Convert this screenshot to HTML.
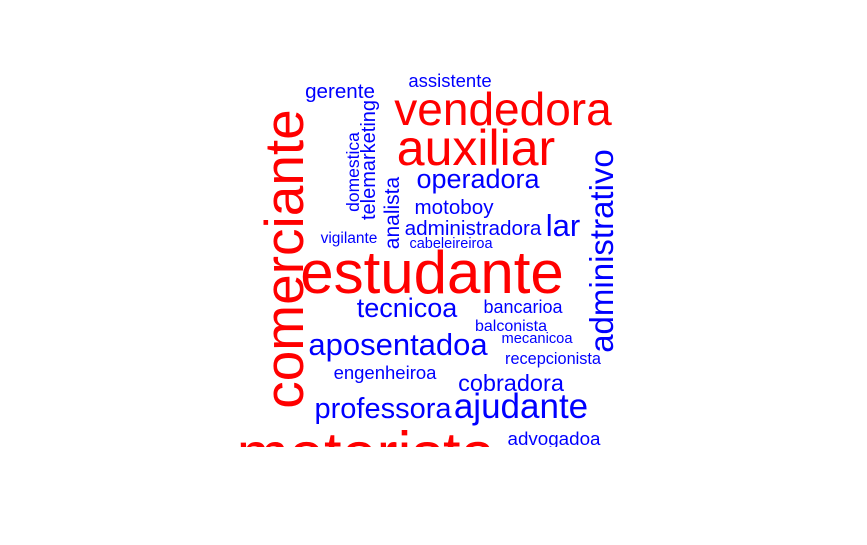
<!DOCTYPE html>
<html>
<head>
<meta charset="utf-8">
<style>
html,body{margin:0;padding:0;background:#fff;}
svg{display:block;}
text{font-family:"Liberation Sans",Arial,sans-serif;}
</style>
</head>
<body>
<svg id="cloud" width="867" height="545" viewBox="0 0 867 545">
<defs><clipPath id="clip"><rect x="0" y="0" width="867" height="447"/></clipPath></defs>
<g id="words" clip-path="url(#clip)"></g>
</svg>
<script>
// word cloud data: words and their relative sizes (font px)
const words = ["estudante","comerciante","motorista","auxiliar","vendedora","administrativo","ajudante","aposentadoa","lar","professora","operadora","tecnicoa","cobradora","gerente","analista","telemarketing","motoboy","administradora","advogadoa","engenheiroa","domestica","bancarioa","assistente","recepcionista","balconista","vigilante","mecanicoa","cabeleireiroa"];
const sizes = [60,55,63,50,46,33,35,31,31,29,27,27,23.5,20.6,21,20,20.6,20.7,18.8,18.5,17.5,18,18.5,16.3,16,15.5,14.7,14.5];
const colorGroup = [1,1,1,1,1,0,0,0,0,0,0,0,0,0,0,0,0,0,0,0,0,0,0,0,0,0,0,0];
// layout (placement computed by the cloud algorithm)
const layout = {
 estudante:[432,293,0], comerciante:[303,259,1], motorista:[366,476,0], auxiliar:[476,165,0],
 vendedora:[503,125,0], administrativo:[613,251,1], ajudante:[521,418,0], aposentadoa:[398,355,0],
 lar:[563,236,0], professora:[383,418,0], operadora:[478,188,0], tecnicoa:[407,317,0],
 cobradora:[511,391,0], gerente:[340,98,0], analista:[399,213,1], telemarketing:[375,160,1],
 motoboy:[454,214,0], administradora:[473,235,0], advogadoa:[554,445,0], engenheiroa:[385,379,0],
 domestica:[359,172,1], bancarioa:[523,313,0], assistente:[450,87,0], recepcionista:[553,364,0],
 balconista:[511,331,0], vigilante:[349,243,0], mecanicoa:[537,343,0], cabeleireiroa:[451,248,0]
};
const g = document.getElementById('words');
words.forEach((w,i)=>{
  const p = layout[w];
  const t = document.createElementNS('http://www.w3.org/2000/svg','text');
  
  
  t.setAttribute('x', p[0]);
  t.setAttribute('y', p[1]);
  t.setAttribute('text-anchor','middle');
  t.setAttribute('font-size', sizes[i]);
  t.setAttribute('fill', colorGroup[i] ? '#ff0000' : '#0000ff');
  if (p[2]) t.setAttribute('transform','rotate(-90 '+p[0]+' '+p[1]+')');
  t.textContent = w;
  g.appendChild(t);
});
</script>
</body>
</html>
